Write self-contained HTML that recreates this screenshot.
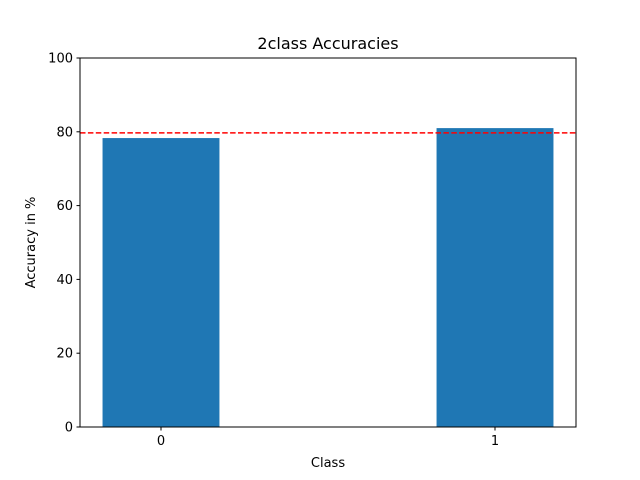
<!DOCTYPE html>
<html><head><meta charset="utf-8"><style>
html,body{margin:0;padding:0;background:#fff;}
svg{display:block;font-family:"DejaVu Sans","Liberation Sans",sans-serif;}
</style></head><body>
<svg id="chart" width="640" height="480" viewBox="0 0 640 480">
<rect width="640" height="480" fill="#fff"/>
<g id="bars"></g>
<g id="overlay"></g>
<rect x="80" y="58" width="496" height="369" fill="none" stroke="#000" stroke-width="1"/>
<g id="xticks"></g><g id="yticks"></g>
<text x="328" y="49" font-size="16" text-anchor="middle">2class Accuracies</text>
<text x="328" y="467" font-size="13" text-anchor="middle">Class</text>
<text x="0" y="0" font-size="13" text-anchor="middle" transform="translate(35,242.5) rotate(-90)">Accuracy in %</text>
</svg>
<script>
const categories = ["0", "1"];
const accuracies = [78.3, 81.0];
const meanAccuracy = [79.7];
const yTicks = [0, 20, 40, 60, 80, 100];

const ns = "http://www.w3.org/2000/svg";
const X0 = 80, X1 = 576, Y0 = 427, Y1 = 58;
const xmin = -0.2425, xmax = 1.2425, barW = 0.35;
function xs(v){ return X0 + (v - xmin) / (xmax - xmin) * (X1 - X0); }
function ys(v){ return Y0 - v / 100 * (Y0 - Y1); }
function mk(tag, attrs, parent){ const e = document.createElementNS(ns, tag); for (const k in attrs) e.setAttribute(k, attrs[k]); parent.appendChild(e); return e; }

const bars = document.getElementById("bars");
accuracies.forEach((v, i) => {
  const r = mk("rect", {x: xs(i - barW/2), y: ys(v), width: xs(i + barW/2) - xs(i - barW/2), height: ys(0) - ys(v), fill: "#1f77b4"}, bars);
  
  
});
const ov = document.getElementById("overlay");
const ln = mk("line", {x1: X0, x2: X1, y1: ys(meanAccuracy[0]), y2: ys(meanAccuracy[0]), stroke: "#ff0000", "stroke-width": 1.5, "stroke-dasharray": "5.5,2.4"}, ov);



const xt = document.getElementById("xticks");
categories.forEach((c, i) => {
  const t = mk("line", {x1: xs(i), x2: xs(i), y1: Y0, y2: Y0 + 3.5, stroke: "#000"}, xt);
  
  
  const l = mk("text", {x: xs(i), y: Y0 + 18, "font-size": 13, "text-anchor": "middle"}, xt);
  l.textContent = c;
  
  
});
const yt = document.getElementById("yticks");
yTicks.forEach(v => {
  const t = mk("line", {x1: X0 - 3.5, x2: X0, y1: ys(v), y2: ys(v), stroke: "#000"}, yt);
  
  
  const l = mk("text", {x: X0 - 7, y: ys(v) + 4.5, "font-size": 13, "text-anchor": "end"}, yt);
  l.textContent = v;
  
  
});
</script>
</body></html>
